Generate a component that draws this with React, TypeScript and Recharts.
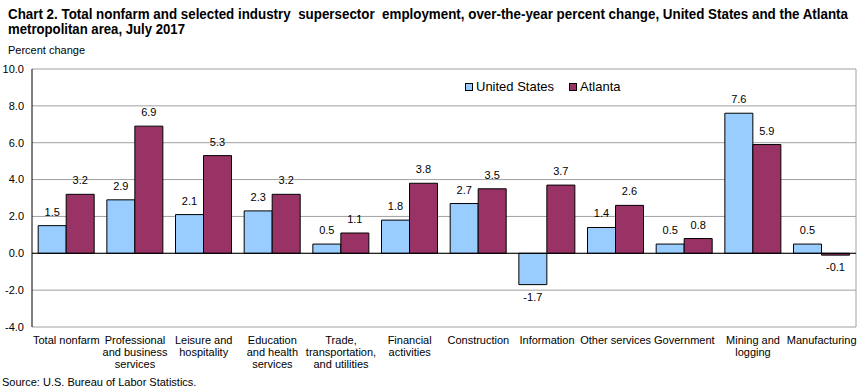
import React from 'react';
import { BarChart, Bar, XAxis, YAxis, CartesianGrid, ReferenceLine, LabelList } from 'recharts';

const categories = [
  'Total nonfarm',
  'Professional\nand business\nservices',
  'Leisure and\nhospitality',
  'Education\nand health\nservices',
  'Trade,\ntransportation,\nand utilities',
  'Financial\nactivities',
  'Construction',
  'Information',
  'Other services',
  'Government',
  'Mining and\nlogging',
  'Manufacturing',
];
const unitedStates = [1.5, 2.9, 2.1, 2.3, 0.5, 1.8, 2.7, -1.7, 1.4, 0.5, 7.6, 0.5];
const atlanta = [3.2, 6.9, 5.3, 3.2, 1.1, 3.8, 3.5, 3.7, 2.6, 0.8, 5.9, -0.1];
const yTicks = [-4, -2, 0, 2, 4, 6, 8, 10];
const seriesNames = ['United States', 'Atlanta'];
const seriesColors = ['#99CCFF', '#993366'];
const titleLines = [
  'Chart 2. Total nonfarm and selected industry  supersector  employment, over-the-year percent change, United States and the Atlanta',
  'metropolitan area, July 2017',
];

const data = categories.map((c, i) => ({ name: c, us: unitedStates[i], atl: atlanta[i] }));

const FONT = '"Liberation Sans", Arial, sans-serif';
const TITLE_SCALE = 0.93;

const XTick = (props: any) => {
  const { x, y, payload } = props;
  const lines = String(payload.value).split('\n');
  return (
    <g transform={`translate(${x},${y})`}>
      {lines.map((l: string, i: number) => (
        <text key={i} x={0} y={0} dy={17 + i * 12} textAnchor="middle" fontSize={11} fill="#000" fontFamily={FONT}>
          {l}
        </text>
      ))}
    </g>
  );
};

const renderLabel = (props: any) => {
  const { x, y, width, height, value } = props;
  const top = Math.min(y, y + height);
  const bottom = Math.max(y, y + height);
  const cx = x + width / 2;
  const ty = value < 0 ? bottom + 16 : top - 10;
  return (
    <text x={cx} y={ty} textAnchor="middle" fontSize={11} fill="#000" fontFamily={FONT}>
      {Number(value).toFixed(1)}
    </text>
  );
};

export default function App() {
  return (
    <div style={{ position: 'absolute', left: 0, top: 0, width: 868, height: 392, fontFamily: FONT, background: '#fff' }}>
      <svg style={{ position: 'absolute', left: 0, top: 0 }} width={868} height={40}>
        <g transform={`translate(8,0) scale(${TITLE_SCALE},1)`}>
          <text x={0} y={19} fontSize={14} fontWeight="bold" fontFamily={FONT} fill="#000" textLength={840 / TITLE_SCALE} lengthAdjust="spacingAndGlyphs" style={{ whiteSpace: 'pre' }}>
            {titleLines[0]}
          </text>
          <text x={0} y={34} fontSize={14} fontWeight="bold" fontFamily={FONT} fill="#000" textLength={177 / TITLE_SCALE} lengthAdjust="spacingAndGlyphs">
            {titleLines[1]}
          </text>
        </g>
      </svg>
      <div style={{ position: 'absolute', left: 8, top: 43, fontSize: 11, lineHeight: '14px', color: '#000' }}>Percent change</div>
      <div style={{ position: 'absolute', left: 2, top: 375, fontSize: 11, lineHeight: '14px', color: '#000' }}>Source: U.S. Bureau of Labor Statistics.</div>
      <div style={{ position: 'absolute', top: 0, left: 0 }}>
        <BarChart
          width={868}
          height={392}
          data={data}
          margin={{ top: 69, right: 12, bottom: 15, left: 8 }}
          barCategoryGap="9%"
          barGap={0}
        >
          <CartesianGrid stroke="#A0A0A0" vertical={true} verticalPoints={[856]} horizontal={true} />
          <XAxis dataKey="name" height={50} axisLine={false} tickLine={false} tickSize={0} tickMargin={0} tick={<XTick />} interval={0} />
          <YAxis
            width={24}
            domain={[-4, 10]}
            ticks={yTicks}
            tickFormatter={(v: number) => v.toFixed(1)}
            axisLine={{ stroke: '#000' }}
            tickLine={false}
            tickSize={0}
            tickMargin={8}
            tick={{ fontSize: 11, fill: '#000', fontFamily: FONT }}
            allowDataOverflow
          />
          <ReferenceLine y={0} stroke="#000" />
          <Bar dataKey="us" name={seriesNames[0]} fill={seriesColors[0]} stroke="#000" strokeWidth={1} isAnimationActive={false}>
            <LabelList dataKey="us" content={renderLabel} />
          </Bar>
          <Bar dataKey="atl" name={seriesNames[1]} fill={seriesColors[1]} stroke="#000" strokeWidth={1} isAnimationActive={false}>
            <LabelList dataKey="atl" content={renderLabel} />
          </Bar>
        </BarChart>
      </div>
      {seriesNames.map((n, i) => (
        <div
          key={n}
          style={{ position: 'absolute', left: i === 0 ? 465 : 569, top: 79, fontSize: 13, lineHeight: '16px', display: 'flex', alignItems: 'center', color: '#000', whiteSpace: 'nowrap' }}
        >
          <span style={{ display: 'inline-block', width: 6, height: 6, background: seriesColors[i], border: '1px solid #000', marginRight: 3 }} />
          <span>{n}</span>
        </div>
      ))}
    </div>
  );
}
